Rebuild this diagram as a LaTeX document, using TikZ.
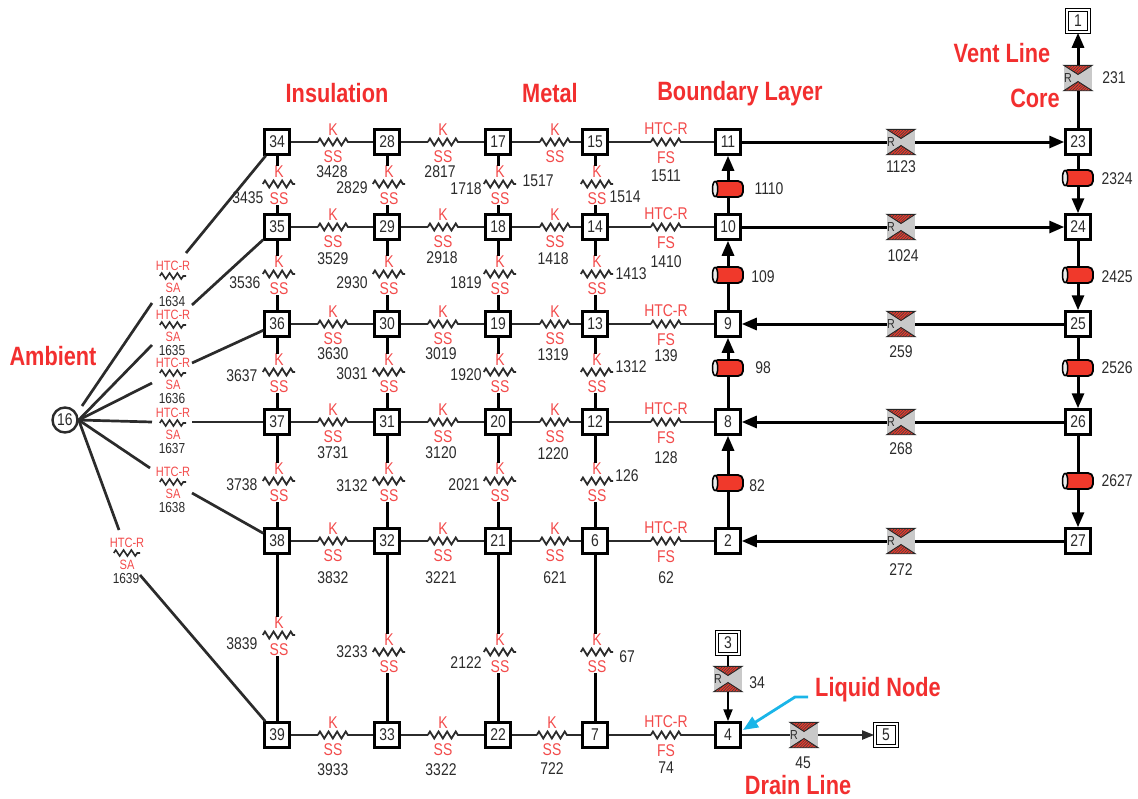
\documentclass[tikz,border=0pt]{standalone}
\usepackage{fontspec}
\setmainfont[FakeStretch=0.82]{Liberation Sans}
\usepackage{xcolor}
\usepackage{tikz}
\usetikzlibrary{arrows.meta,positioning,decorations.pathmorphing,patterns.meta}

\definecolor{labred}{HTML}{F24B4B}
\definecolor{headred}{HTML}{F22F2F}
\definecolor{pipered}{HTML}{F0392B}
\definecolor{valvegray}{HTML}{C9C9C9}
\definecolor{leadblue}{HTML}{1AB5E8}
\definecolor{ink}{HTML}{2B2B2B}

\newcommand{\fs}[1]{\fontsize{#1}{#1}\selectfont}

\tikzset{
  box/.style={rectangle,draw=black,line width=3pt,fill=white,minimum size=24.5pt,inner sep=0pt,text=ink,font=\fs{17}},
  termbox/.style={rectangle,draw=black,double,double distance=1.6pt,line width=1.1pt,fill=white,minimum size=22.5pt,inner sep=0pt,text=ink,font=\fs{17}},
  ambbox/.style={circle,draw=ink,line width=2.4pt,fill=white,minimum size=25pt,inner sep=0pt,text=ink,font=\fs{17}},
  reslab/.style={inner sep=0pt,text=labred,font=\fs{17}},
  amblab/.style={inner sep=0pt,text=labred,font=\fs{13.5}},
  numlab/.style={inner sep=0pt,text=ink,font=\fs{17}},
  ambnum/.style={inner sep=0pt,text=ink,font=\fs{14.5}},
  head/.style={inner sep=0pt,text=headred,font=\fs{26.5}\bfseries},
  resnode/.style={inner sep=0pt,minimum height=7pt,minimum width=#1},
  zig/.style={draw=ink,line width=1.8pt,decorate,decoration={zigzag,amplitude=3.5pt,segment length=8.6pt}},
  hwire/.style={draw=ink,line width=1.8pt},
  vwire/.style={draw=black,line width=3pt},
  awire/.style={draw=ink,line width=2.7pt},
  bwire/.style={draw=black,line width=3pt},
  flow/.style={-{Triangle[length=15pt,width=12pt]}},
  smallflow/.style={-{Triangle[length=12pt,width=9pt]}},
  valvebody/.style={rectangle,fill=valvegray,minimum width=28pt,minimum height=25pt,inner sep=0pt},
  valvetri/.style={draw=black!85,line width=.9pt,preaction={fill=pipered},pattern={Lines[angle=45,distance=2pt,line width=.6pt]},pattern color=black!75},
  pipebody/.style={rectangle,rounded corners=5pt,draw=black,line width=1.8pt,fill=pipered,minimum width=30pt,minimum height=16pt,inner sep=0pt},
}

% flow resistor with two hatched wedges
\newcommand{\valve}[3]{
  \node[valvebody] (v#1) at (#2,#3) {};
  \draw[valvetri] (v#1.north west) -- (v#1.north east) -- ([yshift=3.5pt]v#1.center) -- cycle;
  \draw[valvetri] (v#1.south west) -- (v#1.south east) -- ([yshift=-3.5pt]v#1.center) -- cycle;
  \node[inner sep=0pt,text=ink,font=\fs{13}] (vr#1) at ([xshift=-10pt]v#1.center) {R};
}
% pipe segment with open left end
\newcommand{\pipe}[3]{
  \node[pipebody] (p#1) at (#2,#3) {};
  \draw[draw=black,line width=1.5pt,fill=gray!15] ([xshift=3pt]p#1.west) ellipse (2.6pt and 7.6pt);
}

\begin{document}
\begin{tikzpicture}[x=1pt,y=-1pt]
  \useasboundingbox (0,0) rectangle (1138,798);

  % wall and fluid nodes
  \foreach \name/\x/\y in {34/277/142,35/277/227,36/277/324,37/277/422,38/277/541,39/277/735,
      28/387/142,29/387/227,30/387/324,31/387/422,32/387/541,33/387/735,
      17/498/142,18/498/227,19/498/324,20/498/422,21/498/541,22/498/735,
      15/595/142,14/595/227,13/595/324,12/595/422,6/595/541,7/595/735,
      11/728/142,10/728/227,9/728/324,8/728/422,2/728/541,4/728/735,
      23/1078/142,24/1078/227,25/1078/324,26/1078/422,27/1078/541}
    \node[box] (n\name) at (\x,\y) {\name};
  \node[termbox] (n1) at (1078,21) {1};
  \node[termbox] (n3) at (728,643) {3};
  \node[termbox] (n5) at (886,735) {5};
  \node[ambbox] (n16) at (65,420) {16};

  % horizontal conduction
  \foreach \a/\b/\id/\x/\y/\nx/\ny in {34/28/3428/333/142/332/172,28/17/2817/443/142/440/172,17/15/1517/555/142/538/181,
      35/29/3529/333/227/333/259,29/18/2918/443/227/442/258,18/14/1418/555/227/553/259,
      36/30/3630/333/324/333/354,30/19/3019/443/324/441/354,19/13/1319/555/324/553/355,
      37/31/3731/333/422/333/453,31/20/3120/443/422/441/453,20/12/1220/555/422/553/454,
      38/32/3832/333/541/333/578,32/21/3221/443/541/441/578,21/6/621/555/541/555/578,
      39/33/3933/333/735/333/770,33/22/3322/443/735/441/770,22/7/722/552/735/552/769}{
    \node[resnode=30pt] (r\id) at (\x,\y) {};
    \draw[hwire] (n\a) -- (r\id) -- (n\b);
    \draw[zig] (r\id.west) -- (r\id.east);
    \node[reslab] (k\id) at (\x,\y-12.5) {K};
    \node[reslab] (s\id) at (\x,\y+15) {SS};
    \node[numlab] (t\id) at (\nx,\ny) {\id};
  }

  % convection to the boundary layer
  \foreach \a/\b/\id/\y/\ny in {15/11/1511/142/176,14/10/1410/227/262,13/9/139/324/356,12/8/128/422/458,6/2/62/541/578,7/4/74/735/768}{
    \node[resnode=30pt] (r\id) at (666,\y) {};
    \draw[hwire] (n\a) -- (r\id) -- (n\b);
    \draw[zig] (r\id.west) -- (r\id.east);
    \node[reslab] (k\id) at (666,\y-13) {HTC-R};
    \node[reslab] (s\id) at (666,\y+15.5) {FS};
    \node[numlab] (t\id) at (666,\ny) {\id};
  }

  % vertical conduction
  \foreach \a/\b/\id/\x/\y/\nx/\ny in {34/35/3435/279/184/248/198,28/29/2829/389/184/352/188,17/18/1718/500/184/466/189,15/14/1514/597/184/625/197,
      35/36/3536/279/274/245/283,29/30/2930/389/274/352/283,18/19/1819/500/274/466/283,14/13/1413/597/274/631/274,
      36/37/3637/279/372/242/376,30/31/3031/389/372/352/374,19/20/1920/500/372/466/375,13/12/1312/597/372/631/367,
      37/38/3738/279/481/242/485,31/32/3132/389/481/352/486,20/21/2021/500/481/464/485,12/6/126/597/481/627/476,
      38/39/3839/279/635/242/644,32/33/3233/389/652/352/652,21/22/2122/500/652/466/663,6/7/67/597/652/627/657}{
    \node[resnode=32pt] (r\id) at (\x,\y) {};
    \draw[zig] (r\id.west) -- (r\id.east);
    \node[reslab] (k\id) at (\x,\y-12) {K};
    \node[reslab] (s\id) at (\x,\y+15) {SS};
    \node[numlab] (t\id) at (\nx,\ny) {\id};
    \draw[vwire] (n\a) -- (n\a |- k\id.north);
    \draw[vwire] (n\b |- s\id.south) -- (n\b);
  }

  % losses to ambient
  \foreach \id/\x/\y in {1634/173/276,1635/173/325,1636/173/373,1637/173/423,1638/173/482,1639/127/553}{
    \node[resnode=26pt] (r\id) at (\x,\y) {};
    \draw[zig,line width=1.6pt,decoration={amplitude=3pt,segment length=7.8pt}] (r\id.west) -- (r\id.east);
    \node[amblab] (k\id) at (\x,\y-10) {HTC-R};
    \node[amblab] (s\id) at (\x,\y+12) {SA};
    \node[ambnum] (t\id) at (\x-1,\y+26) {\id};
  }
  \coordinate (s16) at (82,406);
  \draw[awire] (s16) -- (152,303) coordinate (a1634);
  \draw[awire] (186,253) coordinate (b1634) -- (n34);
  \foreach \id/\to/\ax/\ay/\bx/\by in {1635/35/152/345/192/305,1636/36/152/383/192/363,1637/37/152/422/192/422,1638/38/150/468/192/493,1639/39/119/530/140/575}{
    \coordinate (a\id) at (\ax,\ay);
    \coordinate (b\id) at (\bx,\by);
    \draw[awire] (n16.east) -- (a\id);
    \draw[awire] (b\id) -- (n\to);
  }

  % flow paths, valves
  \foreach \id/\x/\y/\nx/\ny in {1123/901/142/901/167,1024/901/227/903/256,259/901/324/901/352,268/901/422/901/449,272/901/541/901/570,231/1078/78/1114/78,34/728/679/757/683,45/804/735/803/763}{
    \valve{\id}{\x}{\y}
    \node[numlab] (t\id) at (\nx,\ny) {\id};
  }
  \draw[bwire] (n11) -- (v1123);
  \draw[bwire,flow] (v1123) -- (n23);
  \draw[bwire] (n10) -- (v1024);
  \draw[bwire,flow] (v1024) -- (n24);
  \draw[bwire] (n25) -- (v259);
  \draw[bwire,flow] (v259) -- (n9);
  \draw[bwire] (n26) -- (v268);
  \draw[bwire,flow] (v268) -- (n8);
  \draw[bwire] (n27) -- (v272);
  \draw[bwire,flow] (v272) -- (n2);
  \draw[bwire] (n23) -- (v231);
  \draw[bwire,flow] (v231) -- (n1);
  \draw[vwire,line width=2pt] (n3) -- (v34);
  \draw[vwire,line width=2pt,smallflow] (v34) -- (n4);
  \draw[hwire] (n4) -- (v45);
  \draw[hwire,smallflow] (v45) -- (n5);

  % pipes
  \foreach \id/\a/\b/\x/\y/\nx/\ny in {1110/10/11/728/189/769/189,109/9/10/728/275/763/277,98/8/9/728/368/763/368,82/2/8/728/483/757/486,
      2324/23/24/1078/178/1117/179,2425/24/25/1078/275/1117/277,2526/25/26/1078/368/1117/368,2627/26/27/1078/481/1117/481}{
    \pipe{\id}{\x}{\y}
    \node[numlab] (t\id) at (\nx,\ny) {\id};
  }
  \foreach \id/\a/\b in {1110/10/11,109/9/10,98/8/9,82/2/8,2324/23/24,2425/24/25,2526/25/26,2627/26/27}{
    \draw[bwire] (n\a) -- (p\id);
    \draw[bwire,flow] (p\id) -- (n\b);
  }

  % headings
  \node[head] (insul) at (337,93) {Insulation};
  \node[head] (metal) at (550,93) {Metal};
  \node[head] (blayer) at (740,94) {Boundary Layer};
  \node[head] (vent) at (1002,53) {Vent Line};
  \node[head] (core) at (1035,98) {Core};
  \node[head] (amb) at (53,356) {Ambient};
  \node[head] (liq) at (878,690) {Liquid Node};
  \node[head] (drain) at (798,785) {Drain Line};

  % pointer to the liquid node
  \coordinate (lq1) at (808,697);
  \coordinate (lq2) at (795,697);
  \coordinate (lq3) at (743,730);
  \draw[leadblue,line width=2.8pt,-{Triangle[length=15pt,width=12pt]}] (lq1) -- (lq2) -- (lq3);
\end{tikzpicture}
\end{document}
